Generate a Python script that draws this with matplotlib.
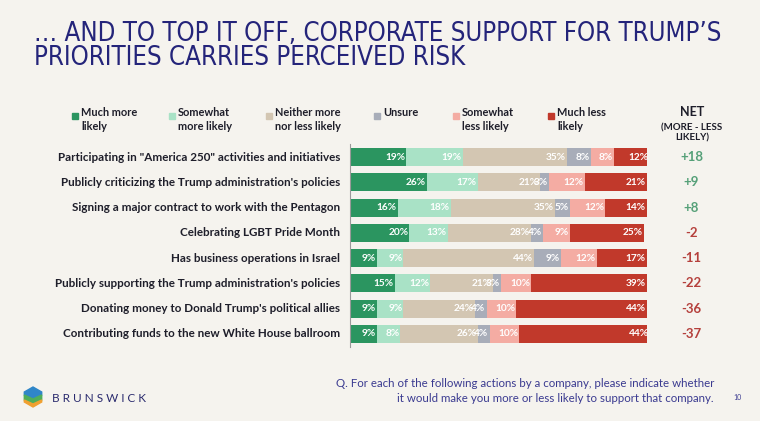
import matplotlib.pyplot as plt
from matplotlib.patches import Polygon, Rectangle

# data
actions = [
    'Participating in "America 250" activities and initiatives',
    "Publicly criticizing the Trump administration's policies",
    "Signing a major contract to work with the Pentagon",
    "Celebrating LGBT Pride Month",
    "Has business operations in Israel",
    "Publicly supporting the Trump administration's policies",
    "Donating money to Donald Trump's political allies",
    "Contributing funds to the new White House ballroom",
]
much_more = [19, 26, 16, 20, 9, 15, 9, 9]
somewhat_more = [19, 17, 18, 13, 9, 12, 9, 8]
neither = [35, 21, 35, 28, 44, 21, 24, 26]
unsure = [8, 3, 5, 4, 9, 3, 4, 4]
somewhat_less = [8, 12, 12, 9, 12, 10, 10, 10]
much_less = [12, 21, 14, 25, 17, 39, 44, 44]
net = [18, 9, 8, -2, -11, -22, -36, -37]

series = [much_more, somewhat_more, neither, unsure, somewhat_less, much_less]
legend_labels = ["Much more\nlikely", "Somewhat\nmore likely", "Neither more\nnor less likely",
                 "Unsure", "Somewhat\nless likely", "Much less\nlikely"]
colors = ["#2b9560", "#a9e2c6", "#d3c6b2", "#a8adb9", "#f4aca3", "#c1392b"]

W, H = 760, 421
bg = "#f5f3ee"
navy = "#24247a"
fig = plt.figure(figsize=(7.6, 4.21), dpi=100, facecolor=bg)

def fx(px):
    return px / W

def fy(py):
    return 1 - py / H

# title
fig.text(fx(34), fy(46), "… AND TO TOP IT OFF, CORPORATE SUPPORT FOR TRUMP’S\nPRIORITIES CARRIES PERCEIVED RISK",
         family="DejaVu Sans", fontstretch="condensed", fontsize=18.5, color=navy,
         va="center", ha="left", linespacing=0.92)

# bars
ax = fig.add_axes([fx(350), fy(346.5), fx(647) - fx(350), (346.5 - 144.5) / H])
ax.set_facecolor(bg)
ypos = list(range(len(actions)))
left = [0] * len(actions)
for vals, col in zip(series, colors):
    ax.barh(ypos, vals, left=left, height=0.72, color=col, edgecolor="none")
    for i, v in enumerate(vals):
        ax.text(left[i] + v - 0.4, i, f"{v}%", ha="right", va="center", color="white",
                fontsize=7.3, fontweight="bold", family="Lato")
    left = [l + v for l, v in zip(left, vals)]
ax.set_xlim(0, 100)
ax.set_ylim(len(actions) - 0.5, -0.5)
ax.set_xticks([])
ax.set_yticks([])
for s in ["top", "right", "bottom"]:
    ax.spines[s].set_visible(False)
ax.spines["left"].set_color("#9a9a9a")
ax.spines["left"].set_linewidth(0.8)

# row labels and net
for i, (lab, n) in enumerate(zip(actions, net)):
    ax.text(-3.4, i, lab, ha="right", va="center", fontsize=8.4, fontweight="bold",
            family="Lato", color="#1e1e2a")
    ax.text(115, i, f"{n:+d}", ha="center", va="center", fontsize=9.5, fontweight="bold",
            family="Lato", color="#55a078" if n > 0 else "#b5403c")

# legend
sq_x = [72, 169, 266, 374, 453, 548]
for x, lab, col in zip(sq_x, legend_labels, colors):
    fig.patches.append(Rectangle((fx(x), fy(119)), fx(6), 6 / H, color=col,
                                 transform=fig.transFigure))
    fig.text(fx(x + 9), fy(107), lab, ha="left", va="top", fontsize=7.9, fontweight="bold",
             family="Lato", color="#1e1e2a", linespacing=1.3)

fig.text(fx(692), fy(112), "NET", ha="center", va="center", fontsize=9, fontweight="bold",
         family="Lato", color="#1e1e2a")
fig.text(fx(692), fy(133), "(MORE - LESS\nLIKELY)", ha="center", va="center", fontsize=7,
         fontweight="bold", family="Lato", color="#1e1e2a", linespacing=1.2)

# footer
fig.text(fx(714), fy(391), "Q. For each of the following actions by a company, please indicate whether\n"
         "it would make you more or less likely to support that company.",
         ha="right", va="center", fontsize=8.3, family="Lato", color="#3a3a90", linespacing=1.35)
fig.text(fx(737), fy(398), "10", ha="center", va="center", fontsize=5, family="Lato", color="#3a3a90")

# logo
cx, cy, r = 33, 397, 10
top = [(cx, cy - r), (cx + 8.7, cy - r / 2), (cx + 8.7, cy - 2), (cx, cy + 2), (cx - 8.7, cy - 2), (cx - 8.7, cy - r / 2)]
mid = [(cx - 8.7, cy - 2), (cx, cy + 2), (cx + 8.7, cy - 2), (cx + 8.7, cy + 3), (cx, cy + 7), (cx - 8.7, cy + 3)]
bot = [(cx - 8.7, cy + 3), (cx, cy + 7), (cx + 8.7, cy + 3), (cx + 8.7, cy + r / 2), (cx, cy + r), (cx - 8.7, cy + r / 2)]
for pts, col in [(top, "#2f86c8"), (mid, "#4fae5a"), (bot, "#f0a030")]:
    fig.patches.append(Polygon([(fx(a), fy(b)) for a, b in pts], closed=True, color=col,
                               transform=fig.transFigure))
fig.text(fx(52), fy(398), "B R U N S W I C K", ha="left", va="center", fontsize=8.5,
         family="Lato", color="#2a2a6e")

fig.savefig("out.png", dpi=100, facecolor=bg)
